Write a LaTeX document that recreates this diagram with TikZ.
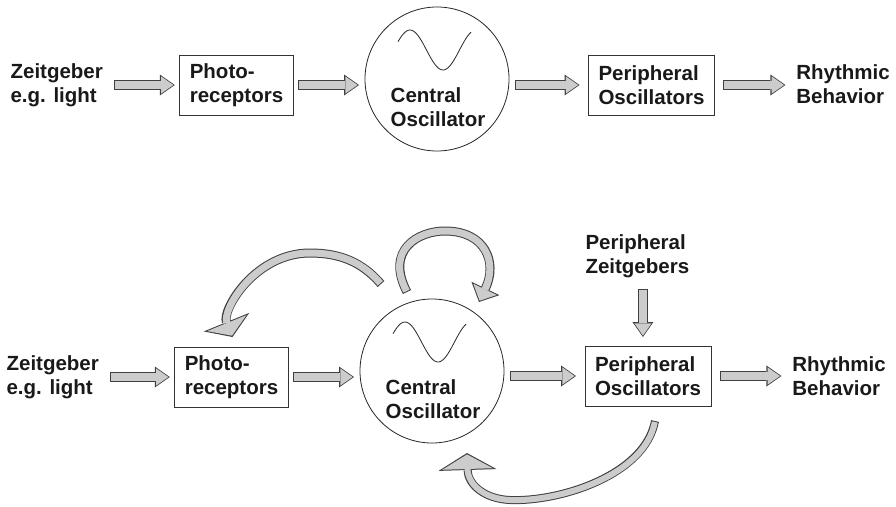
\documentclass[tikz,border=0pt]{standalone}
\usepackage{fontspec}
\setmainfont{Liberation Sans}
\usetikzlibrary{arrows.meta, calc}

\begin{document}
\begin{tikzpicture}[
  x=1pt, y=-1pt,
  font=\fontsize{20.5}{24}\selectfont\bfseries,
  txt/.style ={align=left, inner sep=0pt, outer sep=11pt, text=black!90, anchor=west},
  box/.style ={rectangle, draw=black!80, line width=0.8pt, align=left, inner xsep=10pt, minimum height=60pt, text=black!90},
  osc/.style ={circle, draw=black!85, line width=0.8pt, minimum size=144pt, inner sep=0pt, outer sep=6pt},
  wave/.style={draw=black!85, line width=0.8pt},
  % block arrow: outer shaft, inner shaft, head length, head width, inner head length, inner head width
  blk/.style n args={6}{draw=black!20, line width=#2, shorten <=1pt, shorten >=1.4pt,
    -{Triangle[length=#5, width=#6, line width=0pt]},
    preaction={draw=black!75, line width=#1, shorten <=0pt, shorten >=0pt,
      -{Triangle[length=#3, width=#4, line width=0pt]}}},
  flow/.style   ={blk={10.5pt}{8.5pt}{15pt}{21pt}{12.3pt}{17.2pt}},
  fbarc/.style  ={blk={9pt}{7pt}{16pt}{49pt}{13.6pt}{42.3pt}},
  selfarc/.style={blk={9pt}{7pt}{15pt}{31pt}{12.6pt}{26pt}},
  backarc/.style={blk={8pt}{6pt}{17pt}{58pt}{14.6pt}{50.6pt}}
  ]
  \useasboundingbox (0,0) rectangle (896,506);

  % upper chain
  \node[txt] (zeit1) at (-0.4,85) {Zeitgeber\\e.g. light};
  \node[box, outer sep=5pt] (pho1) at (236.5,85) {Photo-\\receptors};
  \node[osc] (cen1) at (437,79) {};
  \node[txt, anchor=center] (cen1lab) at ($(cen1)+(1,28)$) {Central\\Oscillator};
  \node[box, outer sep=9pt] (per1) at (651.5,85) {Peripheral\\Oscillators};
  \node[txt] (rhy1) at (785.4,84) {Rhythmic\\Behavior};
  \draw[wave, shift={(cen1)}] plot[domain=-39:34, samples=50, smooth] (\x, {-29-20*cos(180*(\x+27)/33)});

  \draw[flow] (zeit1) -- (pho1);
  \draw[flow] (pho1) -- (pho1 -| cen1.west);
  \draw[flow] (cen1.east |- per1) -- (per1);
  \draw[flow] (per1) -- (per1 -| rhy1.west);

  % lower chain with feedback
  \node[txt] (zeit2) at (-4.4,377) {Zeitgeber\\e.g. light};
  \node[box, outer sep=5pt] (pho2) at (231.5,377) {Photo-\\receptors};
  \node[osc] (cen2) at (432,371) {};
  \node[txt, anchor=center] (cen2lab) at ($(cen2)+(1,28)$) {Central\\Oscillator};
  \node[box, outer sep=9pt] (per2) at (648,376) {Peripheral\\Oscillators};
  \node[txt] (rhy2) at (781.4,376) {Rhythmic\\Behavior};
  \node[txt] (pzg) at (574.5,256) {Peripheral\\Zeitgebers};
  \draw[wave, shift={(cen2)}] plot[domain=-39:34, samples=50, smooth] (\x, {-29-20*cos(180*(\x+27)/33)});

  \draw[flow] (zeit2) -- (pho2);
  \draw[flow] (pho2) -- (pho2 -| cen2.west);
  \draw[flow] (cen2.east |- per2) -- (per2);
  \draw[flow] (per2) -- (per2 -| rhy2.west);
  \draw[flow] ([xshift=5.6pt]pzg.south) -- ([xshift=5.6pt]pzg.south |- per2.north);

  \coordinate (fbA) at ($(cen2)+(-51,-87)$);
  \coordinate (fbB) at ($(pho2.north)+(1,-5)$);
  \coordinate (slA) at ($(cen2)+(-25,-79)$);
  \coordinate (slB) at ($(cen2)+(47,-69)$);
  \coordinate (bkA) at ($(per2.south)+(7,6)$);
  \coordinate (bkB) at ($(cen2)+(35,82)$);

  \draw[fbarc] (fbA) .. controls +(-19,-22) and +(30,0) .. ($(cen2)+(-122,-118)$)
    .. controls +(-55,0) and +(-11,-27) .. (fbB);
  \draw[selfarc] (slA) .. controls +(-22,-42) and +(-27,0) .. ($(cen2)+(13,-140)$)
    .. controls +(40,0) and +(19,-40) .. (slB);
  \draw[backarc] (bkA) .. controls +(-10,54) and +(50,2) .. ($(cen2)+(78,129)$)
    .. controls +(-25,-1) and +(1,32) .. (bkB);

\end{tikzpicture}
\end{document}
